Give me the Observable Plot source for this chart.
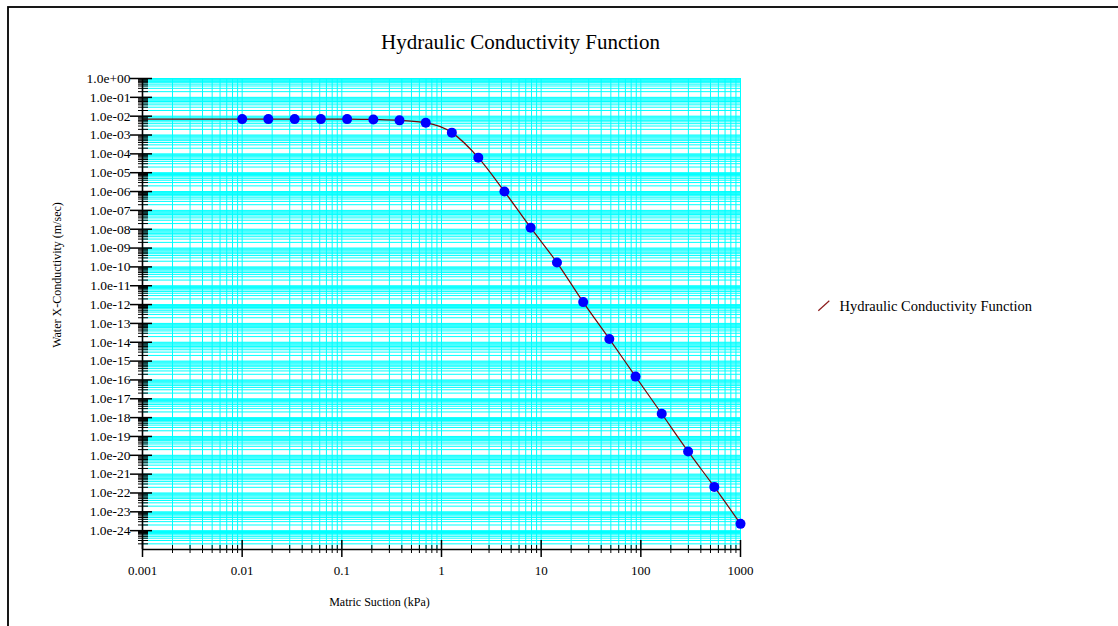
<!DOCTYPE html>
<html>
<head>
<meta charset="utf-8">
<script src="https://cdn.jsdelivr.net/npm/d3@7"></script>
<script src="https://cdn.jsdelivr.net/npm/@observablehq/plot@0.6"></script>
<style>
  html, body { margin: 0; padding: 0; background: #fff; }
  #chart svg { display: block; }
</style>
</head>
<body>
<div id="chart"></div>
<script>
// ---- data ----
const suction = [0.01, 0.0183, 0.0336, 0.0616, 0.113, 0.207, 0.379, 0.695, 1.27, 2.34,
                 4.28, 7.85, 14.4, 26.4, 48.3, 88.6, 162, 298, 546, 1000];
const conductivity = [7.0e-3, 7.0e-3, 7.0e-3, 7.0e-3, 7.0e-3, 6.6e-3, 6.0e-3, 4.5e-3, 1.34e-3, 6.3e-5,
                      1.0e-6, 1.2e-8, 1.7e-10, 1.35e-12, 1.5e-14, 1.5e-16, 1.6e-18, 1.6e-20, 2.1e-22, 2.3e-24];
// the function curve also starts at the left edge of the axis, flat
const curveStartSuction = [0.001];
const curveStartConductivity = [7.0e-3];

const xTickValues = [0.001, 0.01, 0.1, 1, 10, 100, 1000];
const xTickLabels = ["0.001", "0.01", "0.1", "1", "10", "100", "1000"];
const yExponents = [0, -1, -2, -3, -4, -5, -6, -7, -8, -9, -10, -11, -12,
                    -13, -14, -15, -16, -17, -18, -19, -20, -21, -22, -23, -24];

const titleText = "Hydraulic Conductivity Function";
const xTitle = "Matric Suction (kPa)";
const yTitle = "Water X-Conductivity (m/sec)";
const legendLabel = "Hydraulic Conductivity Function";

// ---- derived tables ----
const points = suction.map((s, i) => ({s, k: conductivity[i]}));
const curve = curveStartSuction.map((s, i) => ({s, k: curveStartConductivity[i]})).concat(points);

const yTickValues = yExponents.map(e => Math.pow(10, e));
const fmtY = d => {
  const e = Math.round(Math.log10(d));
  return "1.0e" + (e < 0 ? "-" : "+") + String(Math.abs(e)).padStart(2, "0");
};
const fmtX = d => xTickLabels[xTickValues.findIndex(v => Math.abs(Math.log10(v) - Math.log10(d)) < 1e-6)];

// minor grid / tick positions (1..9 x 10^k)
const xGrid = [];
for (let e = -3; e < 3; e++) for (let m = 1; m <= 9; m++) xGrid.push(m * Math.pow(10, e));
xGrid.push(1000);
const xMinor = xGrid.filter(v => !xTickValues.some(t => Math.abs(t - v) / t < 1e-9));
const yGrid = [];
for (let e = -25; e < 0; e++) for (let m = 1; m <= 9; m++) yGrid.push(m * Math.pow(10, e));
yGrid.push(1);
const yMinor = yGrid.filter(v => Math.abs(Math.log10(v) - Math.round(Math.log10(v))) > 1e-6);

const FONT = "'Liberation Serif', 'Times New Roman', Times, serif";

const plot = Plot.plot({
  width: 1118,
  height: 626,
  marginLeft: 142,
  marginRight: 378,
  marginTop: 78,
  marginBottom: 77,
  style: {fontFamily: FONT, fontSize: "13px", background: "#fff", color: "#000"},
  x: {type: "log", domain: [0.001, 1000], axis: null},
  y: {type: "log", domain: [1e-25, 1], axis: null},
  marks: [
    // grid
    Plot.ruleY(yGrid, {stroke: "#00ffff", strokeWidth: 1}),
    Plot.ruleX(xGrid, {stroke: "#00ffff", strokeWidth: 1}),
    // function curve
    Plot.line(curve, {x: "s", y: "k", stroke: "#7a0505", strokeWidth: 1.2, curve: "monotone-x"}),
    // axis lines
    Plot.ruleX([0.001], {stroke: "#000", strokeWidth: 1.6}),
    Plot.ruleY([1e-25], {stroke: "#000", strokeWidth: 1.6}),
    // y ticks
    Plot.axisY(yTickValues, {anchor: "left", tickSize: 22, dx: 10, fill: "none", stroke: "#000", strokeWidth: 1.5}),
    Plot.axisY(yMinor, {anchor: "left", tickSize: 10, dx: 6, fill: "none", stroke: "#000", strokeWidth: 1}),
    Plot.axisY(yTickValues, {anchor: "left", tickSize: 0, tickPadding: 12, stroke: "none", fill: "#000",
      tickFormat: fmtY, label: null, fontSize: 13.5}),
    // x ticks
    Plot.axisX(xTickValues, {anchor: "bottom", tickSize: 17, dy: -9, fill: "none", stroke: "#000", strokeWidth: 1.5}),
    Plot.axisX(xMinor, {anchor: "bottom", tickSize: 8, dy: -4, fill: "none", stroke: "#000", strokeWidth: 1}),
    Plot.axisX(xTickValues, {anchor: "bottom", tickSize: 0, tickPadding: 16, stroke: "none", fill: "#000",
      tickFormat: fmtX, label: null, fontSize: 13}),
    // data points
    Plot.dot(points, {x: "s", y: "k", r: 5, fill: "#0000ff", stroke: "none"}),
    // titles
    Plot.text([titleText], {text: d => d, frameAnchor: "top", textAnchor: "middle", lineAnchor: "middle",
      dx: 79, dy: -36, fontSize: 21, fill: "#000"}),
    Plot.text([xTitle], {text: d => d, frameAnchor: "bottom", textAnchor: "middle", lineAnchor: "middle",
      dx: -62, dy: 53, fontSize: 12, fill: "#000"}),
    Plot.text([yTitle], {text: d => d, frameAnchor: "left", textAnchor: "middle", lineAnchor: "middle",
      rotate: -90, dx: -85, dy: -39, fontSize: 12, fill: "#000"}),
    Plot.text([legendLabel], {text: d => d, frameAnchor: "right", textAnchor: "start", lineAnchor: "middle",
      dx: 99, dy: -8, fontSize: 14.5, fill: "#000"})
  ]
});

// legend swatch and outer border
const svg = d3.select(plot);
svg.append("line")
  .attr("x1", 818.3).attr("y1", 310.7).attr("x2", 829.3).attr("y2", 300.7)
  .attr("stroke", "#8b1a1a").attr("stroke-width", 1.2);
svg.append("rect")
  .attr("x", 8).attr("y", 7).attr("width", 1300).attr("height", 800)
  .attr("fill", "none").attr("stroke", "#000").attr("stroke-width", 1.8);

document.getElementById("chart").appendChild(plot);
</script>
</body>
</html>
